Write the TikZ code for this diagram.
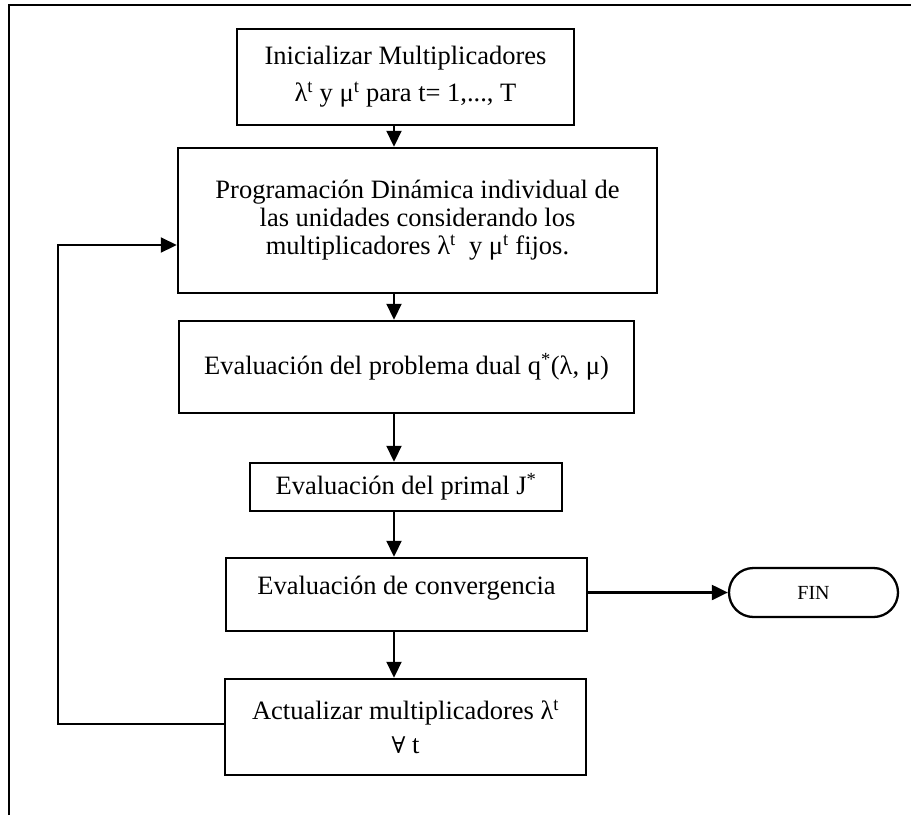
\documentclass[tikz,border=0pt]{standalone}
\usepackage{fontspec}
\setmainfont{Liberation Serif}
\newfontfamily\symfnt{DejaVu Serif}
\usetikzlibrary{arrows.meta,shapes.misc}
\begin{document}
\begin{tikzpicture}[x=1pt,y=-1pt,
  font=\fontsize{26.5}{28}\selectfont,
  procbox/.style={draw, line width=2.5pt, rectangle, inner sep=0pt, align=center},
  termbox/.style={draw, line width=2.3pt, rounded rectangle, inner sep=0pt, font=\fontsize{20}{22}\selectfont},
  flow/.style={line width=2.2pt, -{Triangle[length=16pt,width=15pt]}}]
\useasboundingbox (0,0) rectangle (911,815);
% outer frame (top and left edges)
\draw[line width=2.8pt] (9,815) -- (9,5) -- (911,5);

\node[procbox, minimum width=337pt, minimum height=96pt,
      font=\fontsize{26.5}{37}\selectfont] (b1) at (405.5,77)
  {Inicializar Multiplicadores\\ λ\textsuperscript{t} y μ\textsuperscript{t} para t= 1,..., T};
\node[procbox, minimum width=479pt, minimum height=145pt] (b2) at (417.5,220.5)
  {Programación Dinámica individual de\\ las unidades considerando los\\ multiplicadores λ\textsuperscript{t}\ \ y μ\textsuperscript{t} fijos.};
\node[procbox, minimum width=455pt, minimum height=92pt] (b3) at (406.5,367)
  {Evaluación del problema dual q\textsuperscript{*}(λ, μ)};
\node[procbox, minimum width=312pt, minimum height=48pt] (b4) at (406,487)
  {Evaluación del primal J\textsuperscript{*}};
\node[procbox, minimum width=361pt, minimum height=73pt,
      text height=19pt, text depth=20pt] (b5) at (406.5,594.5)
  {Evaluación de convergencia};
\node[termbox, minimum width=169pt, minimum height=49pt] (fin) at (813.5,592.5) {FIN};
\node[procbox, minimum width=361pt, minimum height=96pt,
      font=\fontsize{26.5}{34}\selectfont] (b6) at (405.5,727)
  {Actualizar multiplicadores λ\textsuperscript{t}\\ {\symfnt\fontsize{23}{34}\selectfont ∀} t};

% main vertical flow
\coordinate (ax) at (394,0);
\draw[flow] (ax |- b1.south) -- (ax |- b2.north);
\draw[flow] (ax |- b2.south) -- (ax |- b3.north);
\draw[flow] (ax |- b3.south) -- (ax |- b4.north);
\draw[flow] (ax |- b4.south) -- (ax |- b5.north);
\draw[flow] (ax |- b5.south) -- (ax |- b6.north);
% exit to FIN
\draw[flow] (b5.east |- fin.west) -- (fin.west);
% feedback loop
\coordinate (lb) at (58,724);
\coordinate (lt) at (58,245);
\draw[flow] (lb -| b6.west) -- (lb) -- (lt) -- (lt -| b2.west);
\end{tikzpicture}
\end{document}
